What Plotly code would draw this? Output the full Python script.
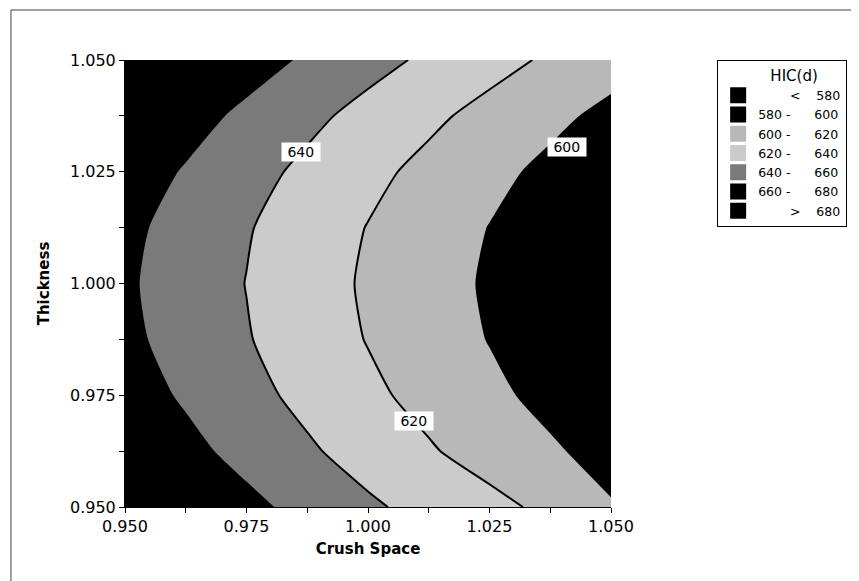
import plotly.graph_objects as go

# ---- data ----
crush_space = [0.95, 0.9625, 0.975, 0.9875, 1.0, 1.0125, 1.025, 1.0375, 1.05]
thickness = [0.95, 0.9625, 0.975, 0.9875, 1.0, 1.0125, 1.025, 1.0375, 1.05]
hic = [
    [688.3, 676.7, 665.1, 653.9, 643.1, 633.6, 625.5, 615.5, 601.5],
    [677.1, 665.5, 653.9, 642.7, 631.9, 621.9, 612.0, 602.5, 593.0],
    [669.2, 657.6, 646.0, 634.8, 624.0, 614.0, 604.1, 594.6, 585.1],
    [664.4, 652.8, 641.2, 630.0, 619.2, 609.2, 599.3, 589.8, 580.3],
    [662.8, 651.2, 639.6, 628.4, 617.6, 607.6, 597.7, 588.2, 578.7],
    [664.6, 653.0, 641.4, 630.2, 619.4, 609.4, 599.5, 590.0, 580.5],
    [670.1, 658.5, 646.9, 635.7, 624.9, 614.9, 605.0, 595.5, 586.0],
    [679.1, 667.5, 655.9, 644.7, 633.9, 623.9, 614.0, 604.5, 595.0],
    [691.8, 680.2, 668.6, 657.4, 646.6, 636.6, 626.7, 617.2, 607.7],
]
band_low = [None, 580, 600, 620, 640, 660, 680]
band_high = [580, 600, 620, 640, 660, 680, None]
x_ticks = [0.95, 0.975, 1.0, 1.025, 1.05]
y_ticks = [0.95, 0.975, 1.0, 1.025, 1.05]

# ---- styles ----
BLACK = "#000000"
C_600 = "#b8b8b8"
C_620 = "#cbcbcb"
C_640 = "#7a7a7a"
band_colors = [BLACK, BLACK, C_600, C_620, C_640, BLACK, BLACK]
FONT = "DejaVu Sans"
NB = "\u00a0"


def band_name(lo, hi):
    if lo is None:
        return NB * 8 + "<" + NB * 4 + str(hi)
    if hi is None:
        return NB * 8 + ">" + NB * 4 + str(lo)
    return str(lo) + NB + "-" + NB * 6 + str(hi)


colorscale = [
    [0.0, BLACK], [0.25, BLACK],
    [0.25, C_600], [0.41667, C_600],
    [0.41667, C_620], [0.58333, C_620],
    [0.58333, C_640], [0.75, C_640],
    [0.75, BLACK], [1.0, BLACK],
]

fig = go.Figure()

fig.add_trace(go.Contour(
    x=crush_space, y=thickness, z=hic,
    contours=dict(start=580, end=680, size=20, coloring="fill", showlabels=False),
    colorscale=colorscale, showscale=False,
    line=dict(width=0, smoothing=0.6),
    hoverinfo="skip", showlegend=False,
))

fig.add_trace(go.Contour(
    x=crush_space, y=thickness, z=hic,
    contours=dict(start=620, end=640, size=20, coloring="none", showlabels=False),
    line=dict(color=BLACK, width=2, smoothing=0.6),
    showscale=False, hoverinfo="skip", showlegend=False,
))

for lo, hi, col in zip(band_low, band_high, band_colors):
    fig.add_trace(go.Scatter(
        x=[None], y=[None], mode="markers",
        marker=dict(symbol="square", size=16, color=col, line=dict(width=0)),
        name=band_name(lo, hi), showlegend=True,
    ))

# contour labels
for txt, lx, ly in [("640", 0.9862, 1.0294), ("620", 1.0095, 0.9692), ("600", 1.041, 1.0305)]:
    fig.add_annotation(
        x=lx, y=ly, xref="x", yref="y", text=NB + txt + NB, showarrow=False,
        font=dict(family=FONT, size=14, color=BLACK),
        bgcolor="white", borderpad=1,
    )

# page frame (top and left edges)
fig.add_shape(type="line", xref="paper", yref="paper",
              x0=-0.2347, x1=1.7, y0=1.1119, y1=1.1119,
              line=dict(color="#444444", width=1))
fig.add_shape(type="line", xref="paper", yref="paper",
              x0=-0.2347, x1=-0.2347, y0=-0.3, y1=1.1119,
              line=dict(color="#444444", width=1))

axis_common = dict(
    showgrid=False, zeroline=False, showline=True, linecolor=BLACK, linewidth=1,
    ticks="outside", ticklen=5, tickcolor=BLACK, tickwidth=1,
    tickformat=".3f", tickfont=dict(family=FONT, size=16, color=BLACK),
    minor=dict(ticks="outside", ticklen=5, tickcolor=BLACK, dtick=0.0125, tick0=0.95),
)

fig.update_layout(
    width=851, height=573,
    margin=dict(l=117, r=244, t=52, b=74),
    paper_bgcolor="white", plot_bgcolor="white",
    font=dict(family=FONT, color=BLACK),
    xaxis=dict(range=[0.95, 1.05], tickvals=x_ticks,
               title=dict(text="<b>Crush Space</b>", standoff=8,
                          font=dict(family=FONT, size=15, color=BLACK)),
               **axis_common),
    yaxis=dict(range=[0.95, 1.05], tickvals=y_ticks,
               title=dict(text="<b>Thickness</b>", standoff=16,
                          font=dict(family=FONT, size=15, color=BLACK)),
               **axis_common),
    legend=dict(
        x=1.2184, y=1.0, xanchor="left", yanchor="top",
        bordercolor=BLACK, borderwidth=1, bgcolor="white",
        font=dict(family=FONT, size=12.5, color=BLACK),
        title=dict(text=NB * 5 + "HIC(d)", side="top center",
                   font=dict(family=FONT, size=15, color=BLACK)),
        itemwidth=30, tracegroupgap=0, traceorder="normal",
    ),
)

fig.write_html("out.html")
